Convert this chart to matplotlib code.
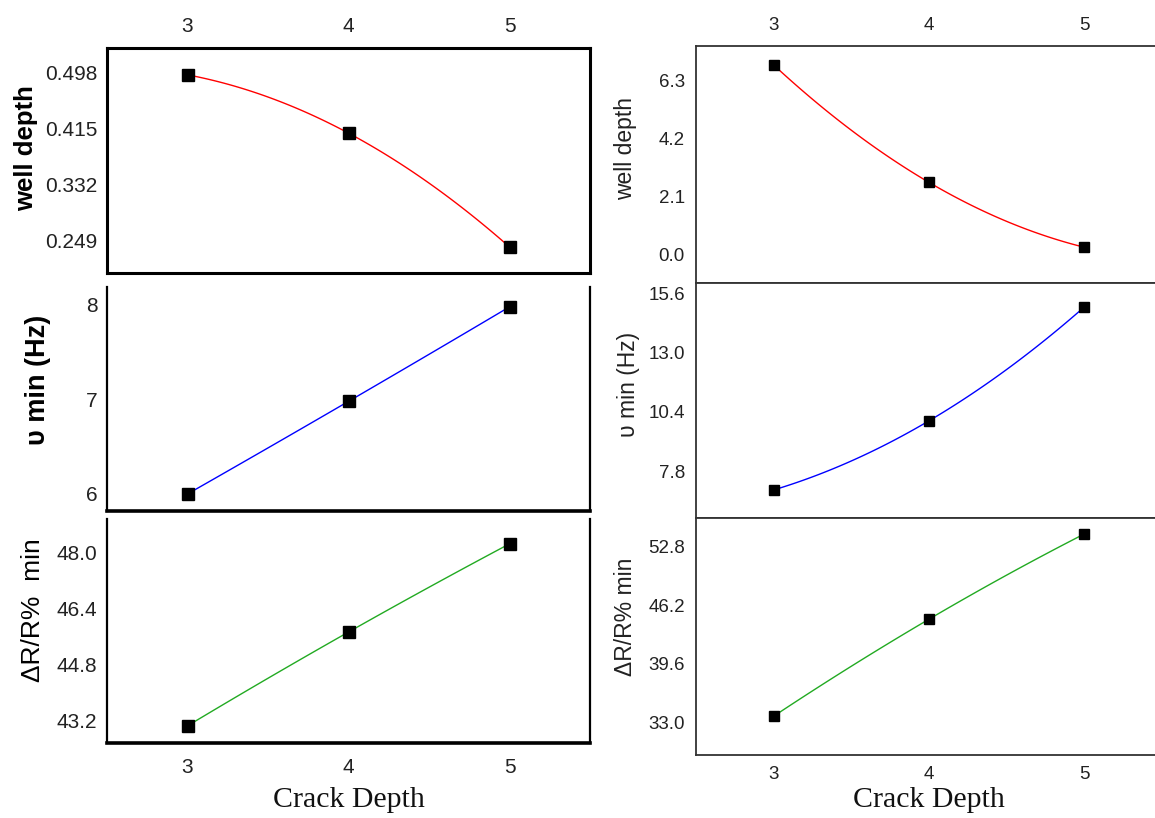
import numpy as np
import matplotlib
matplotlib.use('Agg')
import matplotlib.pyplot as plt

# data
crack = [3, 4, 5]

# left column
well_L = [0.494, 0.408, 0.240]
nu_L = [6.00, 6.98, 7.98]
dr_L = [43.06, 45.74, 48.26]

# right column
well_R = [6.88, 2.61, 0.25]
nu_R = [6.97, 10.00, 14.99]
dr_R = [33.67, 44.63, 54.26]

ticks_well_L = [0.249, 0.332, 0.415, 0.498]
ticks_nu_L = [6, 7, 8]
ticks_dr_L = [43.2, 44.8, 46.4, 48.0]
ticks_well_R = [0.0, 2.1, 4.2, 6.3]
ticks_nu_R = [7.8, 10.4, 13.0, 15.6]
ticks_dr_R = [33.0, 39.6, 46.2, 52.8]

W, H = 1155, 818
SANS = ['Liberation Sans', 'DejaVu Sans']
SERIF = ['Liberation Serif', 'DejaVu Serif']

fig = plt.figure(figsize=(W / 100, H / 100), dpi=100, facecolor='white')


def px_axes(x0, x1, y0, y1):
    return fig.add_axes([x0 / W, 1 - y1 / H, (x1 - x0) / W, (y1 - y0) / H])


def panel(ax, y, color, yticks, ylim, tick_fmt, fs, pad, ms):
    xs = np.linspace(3, 5, 120)
    c = np.polyfit(crack, y, 2)
    ax.plot(xs, np.polyval(c, xs), color=color, lw=1.0, zorder=2)
    ax.plot(crack, y, 's', color='black', ms=ms, zorder=3)
    ax.set_xlim(2.5, 5.5)
    ax.set_ylim(*ylim)
    ax.set_yticks(yticks)
    ax.set_yticklabels([tick_fmt.format(t) for t in yticks])
    ax.set_xticks(crack)
    ax.tick_params(axis='y', length=0, pad=pad, labelsize=fs, labelcolor='#222222')
    ax.tick_params(axis='x', length=0, labelsize=fs, labelcolor='#222222',
                   bottom=False, labelbottom=False)
    for lab in ax.get_yticklabels() + ax.get_xticklabels():
        lab.set_family(SANS)


# ---------------- left column ----------------
axL1 = px_axes(107, 590, 48, 273)
axL2 = px_axes(107, 590, 287, 511)
axL3 = px_axes(107, 590, 519, 743)

panel(axL1, well_L, 'red', ticks_well_L, (0.2016, 0.5336), '{:.3f}', 15, 7, 9)
panel(axL2, nu_L, 'blue', ticks_nu_L, (5.82, 8.19), '{:.0f}', 15, 7, 9)
panel(axL3, dr_L, '#22aa22', ticks_dr_L, (42.57, 48.97), '{:.1f}', 15, 7, 9)

for sp in axL1.spines.values():
    sp.set_linewidth(2.2)
for ax in (axL2, axL3):
    ax.spines['top'].set_visible(False)
    ax.spines['left'].set_linewidth(1.6)
    ax.spines['right'].set_linewidth(1.6)
    ax.spines['bottom'].set_linewidth(2.6)
axL1.tick_params(axis='x', top=False, labeltop=True, pad=9)
axL3.tick_params(axis='x', labelbottom=True, pad=11)
for lab in axL1.get_xticklabels() + axL3.get_xticklabels():
    lab.set_family(SANS)

fig.text(26 / W, 1 - 148 / H, 'well depth', rotation=90, ha='center', va='center',
         fontsize=18.5, fontweight='bold', family=SANS)
fig.text(38 / W, 1 - 380 / H, 'υ min (Hz)', rotation=90, ha='center', va='center',
         fontsize=19.5, fontweight='bold', family=SANS)
fig.text(33 / W, 1 - 610 / H, 'ΔR/R%  min', rotation=90, ha='center', va='center',
         fontsize=19, family=SANS)
fig.text(349 / W, 1 - 800 / H, 'Crack Depth', ha='center', va='center',
         fontsize=21.5, family=SERIF, color='#111111')

# ---------------- right column ----------------
axR1 = px_axes(696, 1162, 46, 283)
axR2 = px_axes(696, 1162, 283, 518)
axR3 = px_axes(696, 1162, 518, 755)

panel(axR1, well_R, 'red', ticks_well_R, (-1.05, 7.57), '{:.1f}', 13.5, 8, 7.5)
panel(axR2, nu_R, 'blue', ticks_nu_R, (5.74, 16.04), '{:.1f}', 13.5, 8, 7.5)
panel(axR3, dr_R, '#22aa22', ticks_dr_R, (29.29, 56.06), '{:.1f}', 13.5, 8, 7.5)

for ax in (axR1, axR2, axR3):
    for sp in ax.spines.values():
        sp.set_linewidth(1.3)
        sp.set_color('#333333')
axR1.tick_params(axis='x', top=False, labeltop=True, pad=9)
axR3.tick_params(axis='x', labelbottom=True, pad=8)
for lab in axR1.get_xticklabels() + axR3.get_xticklabels():
    lab.set_family(SANS)

fig.text(626 / W, 1 - 148 / H, 'well depth', rotation=90, ha='center', va='center',
         fontsize=16.5, family=SANS, color='#222222')
fig.text(628 / W, 1 - 384 / H, 'υ min (Hz)', rotation=90, ha='center', va='center',
         fontsize=16.5, family=SANS, color='#222222')
fig.text(626 / W, 1 - 617 / H, 'ΔR/R% min', rotation=90, ha='center', va='center',
         fontsize=16.5, family=SANS, color='#222222')
fig.text(929 / W, 1 - 800 / H, 'Crack Depth', ha='center', va='center',
         fontsize=21.5, family=SERIF, color='#111111')

fig.savefig('out.png', dpi=100, facecolor='white')
